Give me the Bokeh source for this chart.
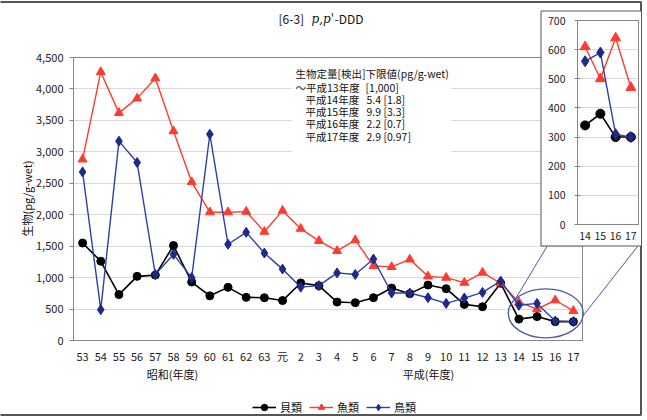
import math
from bokeh.plotting import figure
from bokeh.models import (Range1d, FixedTicker, NumeralTickFormatter, Legend,
                          LegendItem, Column)
from bokeh.core.properties import value
from bokeh.embed import file_html
from bokeh.resources import INLINE

# ---------------- data ----------------
years = ["53", "54", "55", "56", "57", "58", "59", "60", "61", "62", "63", "元",
         "2", "3", "4", "5", "6", "7", "8", "9", "10", "11", "12", "13",
         "14", "15", "16", "17"]
shellfish = [1550, 1260, 730, 1020, 1040, 1510, 930, 710, 845, 686, 680, 635,
             915, 872, 611, 601, 681, 834, 745, 882, 824, 574, 537, 909,
             340, 380, 300, 300]
fish = [2880, 4270, 3620, 3850, 4170, 3330, 2520, 2040, 2040, 2050, 1730, 2065,
        1778, 1585, 1425, 1595, 1185, 1170, 1290, 1020, 1000, 920, 1080, 910,
        610, 500, 640, 470]
birds = [2680, 490, 3170, 2830, 1050, 1370, 1000, 3280, 1530, 1720, 1390, 1135,
         848, 872, 1075, 1050, 1295, 755, 755, 680, 590, 675, 765, 945,
         560, 590, 310, 300]
series_names = ["貝類", "魚類", "鳥類"]
y_ticks = [0, 500, 1000, 1500, 2000, 2500, 3000, 3500, 4000, 4500]
inset_ticks = [0, 100, 200, 300, 400, 500, 600, 700]
inset_first = 24  # 平成14年度 onward
note_title = "生物定量[検出]下限値(pg/g-wet)"
note_left = ["～平成13年度", "平成14年度", "平成15年度", "平成16年度", "平成17年度"]
note_right = ["[1,000]", "5.4 [1.8]", "9.9 [3.3]", "2.2 [0.7]", "2.9 [0.97]"]

F = "Noto Sans CJK JP"
BLACK = "#000000"
RED = "#ff3b2f"
BLUE_LINE = "#2f3fa8"
BLUE_MK = "#1c2a88"
GRID = "#d9d9d9"
FRAME = "#858585"

xs = list(range(len(years)))
styles_main = [
    dict(marker="circle", size=8, color=BLACK, line=BLACK, lw=1.6),
    dict(marker="triangle", size=9, color=RED, line=RED, lw=1.4),
    dict(marker="diamond", size=10, color=BLUE_MK, line=BLUE_LINE, lw=1.4),
]
all_series = [shellfish, fish, birds]

# ---------------- main figure ----------------
p = figure(width=647, height=420, output_backend="svg", toolbar_location=None,
           title=None, x_range=Range1d(-0.5, len(years) - 0.5),
           y_range=Range1d(0, 4500), frame_align=False,
           min_border_left=73, min_border_right=65, min_border_top=57,
           min_border_bottom=80)
p.background_fill_color = "white"
p.border_fill_color = "white"
p.outline_line_color = FRAME
p.xgrid.visible = False
p.ygrid.grid_line_color = GRID
p.yaxis.ticker = FixedTicker(ticks=y_ticks)
p.yaxis.formatter = NumeralTickFormatter(format="0,0")
p.xaxis.ticker = FixedTicker(ticks=xs)
p.xaxis.major_label_overrides = {i: y for i, y in enumerate(years)}
for ax in (p.xaxis[0], p.yaxis[0]):
    ax.axis_line_color = FRAME
    ax.major_label_text_font = F
    ax.major_label_text_font_size = "11px"
    ax.major_label_text_color = "#222222"
    ax.minor_tick_line_color = None
p.xaxis.major_tick_line_color = None
p.xaxis.major_tick_out = 0
p.xaxis.major_tick_in = 0
p.xaxis.major_label_standoff = 7
p.yaxis.major_tick_line_color = FRAME
p.yaxis.major_tick_out = 4
p.yaxis.major_tick_in = 0
p.yaxis.major_label_standoff = 6

for ys, st in zip(all_series, styles_main):
    p.line(xs, ys, line_color=st["line"], line_width=st["lw"])
    p.scatter(xs, ys, marker=st["marker"], size=st["size"],
              fill_color=st["color"], line_color=st["color"])

# ---------------- overlay (decorations, pixel space) ----------------
ov = figure(width=647, height=420, output_backend="svg", toolbar_location=None,
            title=None, x_range=Range1d(0, 647), y_range=Range1d(420, 0),
            min_border=0, x_axis_location=None, y_axis_location=None,
            frame_align=False,
            styles={"position": "absolute", "left": "0px", "top": "0px"})
ov.background_fill_alpha = 0
ov.border_fill_alpha = 0
ov.outline_line_color = None
ov.grid.visible = False

# outer frame (left edge lies just outside the picture)
ov.quad(left=[-3], right=[640.5], top=[1.5], bottom=[414.5],
        fill_alpha=0, line_color="#555555", line_width=2)
# white note box
ov.quad(left=[291], right=[451], top=[61], bottom=[156],
        fill_color="white", line_color=None)
# ellipse + connectors
ov.ellipse(x=[545.3], y=[312.8], width=[75], height=[49],
           fill_alpha=0, line_color="#4c5a9e", line_width=1.3)
ov.segment(x0=[514, 582], y0=[300, 316], x1=[546.5, 637], y1=[246, 246],
           line_color="#4c5a9e", line_width=1)
# inset box background
ov.quad(left=[540.5], right=[641], top=[10.5], bottom=[245.5],
        fill_color="white", line_color="#555555", line_width=1)

# title
ov.text(x=[278], y=[18], text=["[6-3]"], text_font=value(F), text_font_size="12px",
        text_baseline="middle", text_align="left", text_color="#111111")
ov.text(x=[311], y=[18], text=["p,p'"], text_font=value("DejaVu Serif"),
        text_font_style="italic", text_font_size="12px",
        text_baseline="middle", text_align="left", text_color="#111111")
ov.text(x=[334], y=[18], text=["-DDD"], text_font=value(F), text_font_size="12px",
        text_baseline="middle", text_align="left", text_color="#111111")

# note text
ov.text(x=[295], y=[73], text=[note_title], text_font=value(F), text_font_size="10.5px",
        text_baseline="middle", text_align="left", text_color="#111111")
ov.text(x=[295, 305, 305, 305, 305], y=[86.5, 98.7, 111, 123.3, 136],
        text=note_left, text_font=value(F), text_font_size="10.5px",
        text_baseline="middle", text_align="left", text_color="#111111")
ov.text(x=[365, 366, 366, 366, 366], y=[86.5, 98.7, 111, 123.3, 136],
        text=note_right, text_font=value(F), text_font_size="10.5px",
        text_baseline="middle", text_align="left", text_color="#111111")

# axis titles
ov.text(x=[172, 428], y=[373, 373], text=["昭和(年度)", "平成(年度)"],
        text_font=value(F), text_font_size="11px", text_baseline="middle",
        text_align="center", text_color="#111111")
ov.text(x=[26], y=[198], text=["生物(pg/g-wet)"], angle=math.pi / 2,
        text_font=value(F), text_font_size="11px", text_baseline="middle",
        text_align="center", text_color="#111111")

# legend (renderers carry the same series, hidden here; they only feed the legend)
items = []
for name, ys, st in zip(series_names, all_series, styles_main):
    lr = ov.line(xs, ys, line_color=st["line"], line_width=st["lw"], visible=False)
    mr = ov.scatter(xs, ys, marker=st["marker"], size=st["size"],
                    fill_color=st["color"], line_color=st["color"], visible=False)
    items.append(LegendItem(label=name, renderers=[lr, mr]))
legend = Legend(items=items, orientation="horizontal", location=(252, 5),
                glyph_width=24, glyph_height=16, label_height=16,
                label_standoff=4, spacing=7, padding=0, margin=0,
                label_text_font=F, label_text_font_size="11px",
                label_text_color="#111111",
                border_line_color=None, background_fill_alpha=0)
ov.add_layout(legend)

# ---------------- inset ----------------
ins = figure(width=101, height=236, output_backend="svg", toolbar_location=None,
             title=None, x_range=Range1d(inset_first - 0.5, len(years) - 0.5),
             y_range=Range1d(0, 700), frame_align=False,
             min_border_left=37, min_border_right=3, min_border_top=10,
             min_border_bottom=22,
             styles={"position": "absolute", "left": "540px", "top": "10px"})
ins.background_fill_color = "white"
ins.border_fill_alpha = 0
ins.outline_line_color = FRAME
ins.xgrid.visible = False
ins.ygrid.grid_line_color = GRID
ins.yaxis.ticker = FixedTicker(ticks=inset_ticks)
ins.xaxis.ticker = FixedTicker(ticks=xs[inset_first:])
ins.xaxis.major_label_overrides = {i: years[i] for i in xs[inset_first:]}
for ax in (ins.xaxis[0], ins.yaxis[0]):
    ax.axis_line_color = FRAME
    ax.major_label_text_font = F
    ax.major_label_text_font_size = "10.5px"
    ax.major_label_text_color = "#222222"
    ax.minor_tick_line_color = None
ins.xaxis.major_tick_line_color = None
ins.xaxis.major_tick_out = 0
ins.xaxis.major_tick_in = 0
ins.xaxis.major_label_standoff = 7
ins.yaxis.major_tick_line_color = FRAME
ins.yaxis.major_tick_in = 3
ins.yaxis.major_tick_out = 3
ins.yaxis.major_label_standoff = 9

ix = xs[inset_first:]
for ys, st in zip(all_series, styles_main):
    ins.line(ix, ys[inset_first:], line_color=st["line"], line_width=st["lw"])
    ins.scatter(ix, ys[inset_first:], marker=st["marker"], size=st["size"] + 1,
                fill_color=st["color"], line_color=st["color"])

layout = Column(children=[p, ov, ins], width=647, height=420,
                styles={"position": "relative"})

open("out.html", "w").write(file_html(layout, INLINE))
